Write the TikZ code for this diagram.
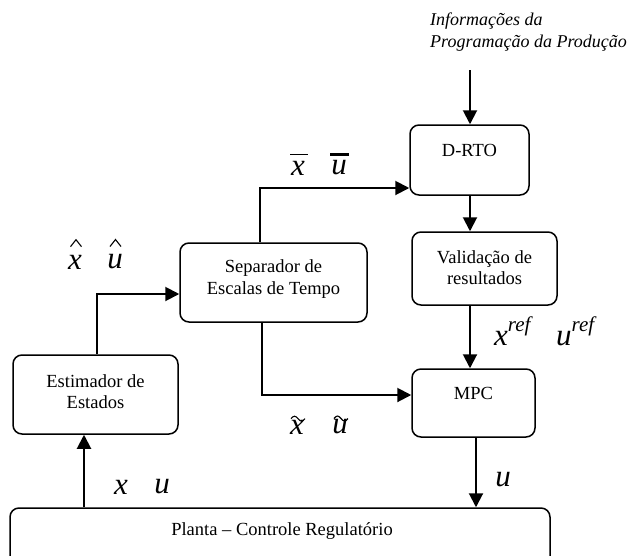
\documentclass[tikz,border=0pt]{standalone}
\usepackage{fontspec}
\setmainfont{Liberation Serif}
\usetikzlibrary{arrows.meta}
\begin{document}
\begin{tikzpicture}[x=1pt,y=-1pt,
  blk/.style={draw, line width=1.5pt, rounded corners=9pt, inner sep=0pt},
  txt/.style={font=\fontsize{18.5}{21.5}\selectfont, align=center, inner sep=0pt},
  var/.style={font=\fontsize{31}{31}\selectfont\itshape, inner sep=0pt},
  conn/.style={line width=2pt, -{Triangle[length=14pt,width=14pt]}},
  thin acc/.style={line width=1.1pt},
  thick acc/.style={line width=2.8pt},
]
\useasboundingbox (0,0) rectangle (637,555);
\clip (0,0) rectangle (637,555);

% blocks
\node[blk, minimum width=119pt, minimum height=70pt] (drto) at (469.5,160) {};
\node[blk, minimum width=145pt, minimum height=73pt] (valid) at (484.5,268.5) {};
\node[blk, minimum width=123pt, minimum height=68pt] (mpc) at (473.5,403) {};
\node[blk, minimum width=187pt, minimum height=79pt] (sep) at (273.5,282.5) {};
\node[blk, minimum width=165pt, minimum height=79pt] (estim) at (95.5,394.5) {};
\node[blk, minimum width=540pt, minimum height=60pt] (plant) at (280,538) {};

% block texts
\node[txt] (drtoT) at (469.5,150) {D-RTO};
\node[txt] (validT) at (484.5,267.5) {Validação de\\resultados};
\node[txt] (mpcT) at (473.5,393) {MPC};
\node[txt] (sepT) at (273.5,279) {Separador de\\Escalas de Tempo};
\node[txt] (estimT) at (95.5,391.5) {Estimador de\\Estados};
\node[txt] (plantT) at (282,531) {Planta – Controle Regulatório};

% external input
\node[txt, font=\fontsize{18}{22}\selectfont\itshape, align=left, anchor=west] (info) at (430,32) {Informações da\\Programação da Produção};

% routing points
\coordinate (infoEnd) at (470,70);
\coordinate (colA) at (470,0);
\coordinate (colB) at (476,0);
\coordinate (colC) at (84,0);
\coordinate (j1) at (97,294);
\coordinate (j2) at (260,188);
\coordinate (j3) at (262,395);

% connectors
\draw[conn] (infoEnd) -- (drto.north -| infoEnd);
\draw[conn] (drto.south -| colA) -- (valid.north -| colA);
\draw[conn] (valid.south -| colA) -- (mpc.north -| colA);
\draw[conn] (mpc.south -| colB) -- (plant.north -| colB);
\draw[conn] (plant.north -| colC) -- (estim.south -| colC);
\draw[conn] (estim.north -| j1) |- (sep.west |- j1);
\draw[conn] (sep.north -| j2) |- (drto.west |- j2);
\draw[conn] (sep.south -| j3) |- (mpc.west |- j3);

% estimated states (hat)
\node[var] (xh) at (75,262) {x};
\node[var] (uh) at (115,262) {u};
\draw[thin acc] ([xshift=-4.5pt,yshift=8pt]xh.north) -- ++(5.5pt,7pt) -- ++(5.5pt,-7pt);
\draw[thin acc] ([xshift=-5pt,yshift=8pt]uh.north) -- ++(5.5pt,7pt) -- ++(5.5pt,-7pt);

% slow components (bar)
\node[var] (xb) at (298,168) {x};
\node[var] (ub) at (339,168) {u};
\draw[thin acc] ([xshift=-8pt,yshift=6pt]xb.north) -- ++(18pt,0pt);
\draw[thick acc] ([xshift=-9pt,yshift=6pt]ub.north) -- ++(19pt,0pt);

% fast components (tilde)
\node[var] (xt) at (297,427) {x};
\node[var] (ut) at (340,427) {u};
\draw[thin acc] ([xshift=-6pt,yshift=1pt]xt.north) sin ++(3.5pt,2.5pt) cos ++(3.5pt,-2.5pt) sin ++(3.5pt,-2.5pt) cos ++(3.5pt,2.5pt);
\draw[thin acc] ([xshift=-6pt,yshift=1pt]ut.north) sin ++(3.5pt,2.5pt) cos ++(3.5pt,-2.5pt) sin ++(3.5pt,-2.5pt) cos ++(3.5pt,2.5pt);

% plant measurements and control action
\node[var] (xp) at (121,487) {x};
\node[var] (up) at (162,487) {u};
\node[var] (uc) at (503,480) {u};

% references
\node[var, anchor=base west] (xr) at (494,345) {x\raisebox{14pt}{\fontsize{21}{21}\selectfont ref}};
\node[var, anchor=base west] (ur) at (556,345) {u\raisebox{14pt}{\fontsize{21}{21}\selectfont ref}};
\end{tikzpicture}
\end{document}
